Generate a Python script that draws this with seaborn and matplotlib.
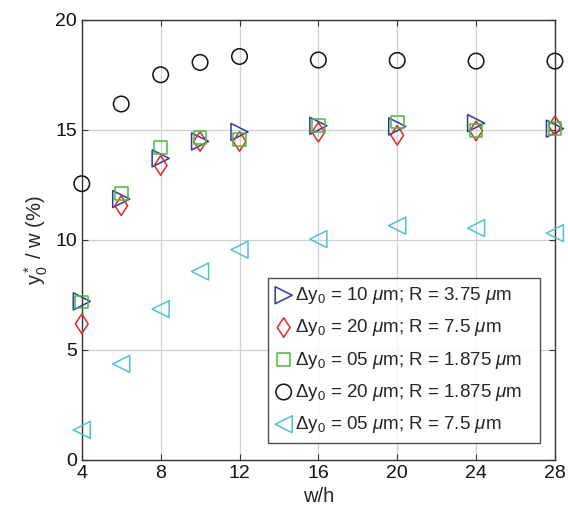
import numpy as np
import pandas as pd
import matplotlib
matplotlib.use("Agg")
import matplotlib.pyplot as plt
import seaborn as sns

wh = [4, 6, 8, 10, 12, 16, 20, 24, 28]
s_blue = [7.2, 11.85, 13.7, 14.47, 14.9, 15.18, 15.15, 15.3, 15.05]
s_red = [6.18, 11.55, 13.38, 14.47, 14.47, 14.89, 14.75, 14.95, 15.18]
s_green = [7.17, 12.1, 14.2, 14.65, 14.55, 15.18, 15.35, 14.95, 15.07]
s_black = [12.55, 16.17, 17.5, 18.06, 18.33, 18.17, 18.15, 18.12, 18.12]
s_cyan = [1.36, 4.36, 6.85, 8.56, 9.55, 10.03, 10.64, 10.53, 10.3]

labels = [
    r"$\Delta$y$_0$ = 10 $\mu$m; R = 3.75 $\mu$m",
    r"$\Delta$y$_0$ = 20 $\mu$m; R = 7.5 $\mu$m",
    r"$\Delta$y$_0$ = 05 $\mu$m; R = 1.875 $\mu$m",
    r"$\Delta$y$_0$ = 20 $\mu$m; R = 1.875 $\mu$m",
    r"$\Delta$y$_0$ = 05 $\mu$m; R = 7.5 $\mu$m",
]
series = [s_blue, s_red, s_green, s_black, s_cyan]
colors = ["#2a3aa0", "#e02828", "#4cb838", "#111111", "#4ec3d2"]
diamond = [(0, 1), (0.65, 0), (0, -1), (-0.65, 0), (0, 1)]
markers = [">", diamond, "s", "o", "<"]
sizes = [150, 200, 85, 125, 150]

sns.set_style("white")
plt.rcParams["font.family"] = ["Liberation Sans", "DejaVu Sans"]
plt.rcParams["mathtext.fontset"] = "custom"
plt.rcParams["mathtext.rm"] = "Liberation Sans"
plt.rcParams["mathtext.it"] = "Liberation Sans:italic"
plt.rcParams["mathtext.bf"] = "Liberation Sans:bold"

fig = plt.figure(figsize=(5.68, 5.19), dpi=100)
ax = fig.add_axes([0.144, 0.114, 0.833, 0.848])

for vals, lab, c, m, s in zip(series, labels, colors, markers, sizes):
    df = pd.DataFrame({"wh": wh, "val": vals})
    sns.scatterplot(data=df, x="wh", y="val", ax=ax, marker=m, s=s,
                    facecolors="none", edgecolor=c, linewidth=1.1,
                    label=lab, zorder=3, clip_on=False)

ax.set_xlim(4, 28)
ax.set_ylim(0, 20)
ax.set_xticks([4, 8, 12, 16, 20, 24, 28])
ax.set_yticks([0, 5, 10, 15, 20])
ax.grid(True, color="#d0d0d0", linewidth=0.9)
ax.set_axisbelow(True)
for sp in ax.spines.values():
    sp.set_color("#333333")
    sp.set_linewidth(1.0)
ax.tick_params(direction="in", length=4, width=0.8, colors="#333333",
               labelcolor="#111111", labelsize=14, top=True, right=True,
               bottom=True, left=True)
ax.set_xlabel("w/h", fontsize=14.5)
ax.set_ylabel(r"y$_0^*$ / w (%)", fontsize=14.5)

leg = ax.legend(loc="lower left", bbox_to_anchor=(0.393, 0.039, 0.575, 0.366),
                mode="expand", fontsize=13.5, frameon=True, fancybox=False,
                handletextpad=0.15, borderpad=0.4, labelspacing=0.6,
                handlelength=0.9, borderaxespad=0)
leg.get_frame().set_edgecolor("#222222")
leg.get_frame().set_linewidth(1.0)

fig.savefig("out.png", dpi=100)
